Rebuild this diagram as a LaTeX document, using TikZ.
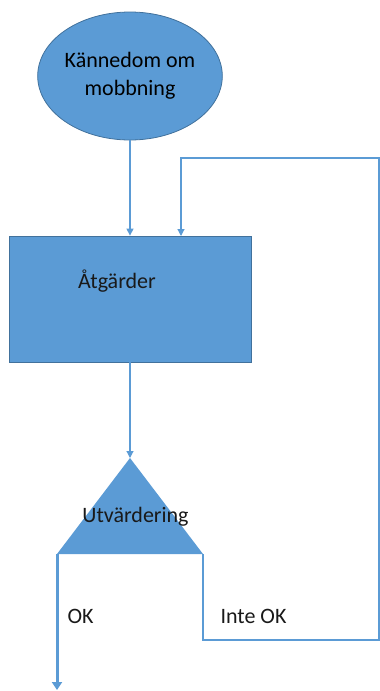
\documentclass[tikz,border=0pt]{standalone}
\usepackage{fontspec}
\setmainfont{Carlito}
\usetikzlibrary{arrows.meta,%
                shapes.geometric}
\definecolor{officeblue}{HTML}{5B9BD5}
\definecolor{officeedge}{HTML}{41719C}

\begin{document}
\begin{tikzpicture}[x=1pt,y=-1pt,font=\fontsize{22}{28}\selectfont]
  \useasboundingbox (0,0) rectangle (380,691);
  \tikzstyle{BlockStyle}=[fill=officeblue,draw=officeedge,line width=0.8pt,inner sep=0pt]
  \tikzstyle{FlowStyle}=[draw=officeblue,line width=1.2pt,-{Triangle[width=7pt,length=7pt]}]
  \tikzstyle{LabelStyle}=[inner sep=0pt,text=black!90]
  \node[BlockStyle,ellipse,minimum width=164pt,minimum height=128pt,align=center] (kand) at (130,76) {Kännedom om\\mobbning};
  \node[BlockStyle,rectangle,minimum width=242pt,minimum height=126pt] (atg) at (130,299) {};
  \node[LabelStyle] (atgtext) at (117,281) {Åtgärder};
  \coordinate (top) at (130,458);
  \coordinate (left) at (57,554);
  \coordinate (right) at (203,554);
  \fill[officeblue] (top) -- (right) -- (left) -- cycle;
  \node[LabelStyle] (utv) at (135.5,517) {Utvärdering};
  \node[LabelStyle] (ok) at (80.5,616) {OK};
  \node[LabelStyle] (inteok) at (253.5,616) {Inte OK};
  \coordinate (okend) at (57,690);
  \coordinate (corner) at (379,640);
  \coordinate (back) at (379,158);
  \coordinate (fbin) at (181,236);
  % flow
  \draw[FlowStyle] (kand) -- (kand |- atg.north);
  \draw[FlowStyle] (atg) -- (top);
  \draw[draw=officeblue,line width=3pt,-{Triangle[width=10pt,length=8pt]}] (left) -- (okend);
  % inte ok, back to atgarder
  \draw[FlowStyle] (right) |- (corner) -- (back) -| (fbin);
\end{tikzpicture}
\end{document}
